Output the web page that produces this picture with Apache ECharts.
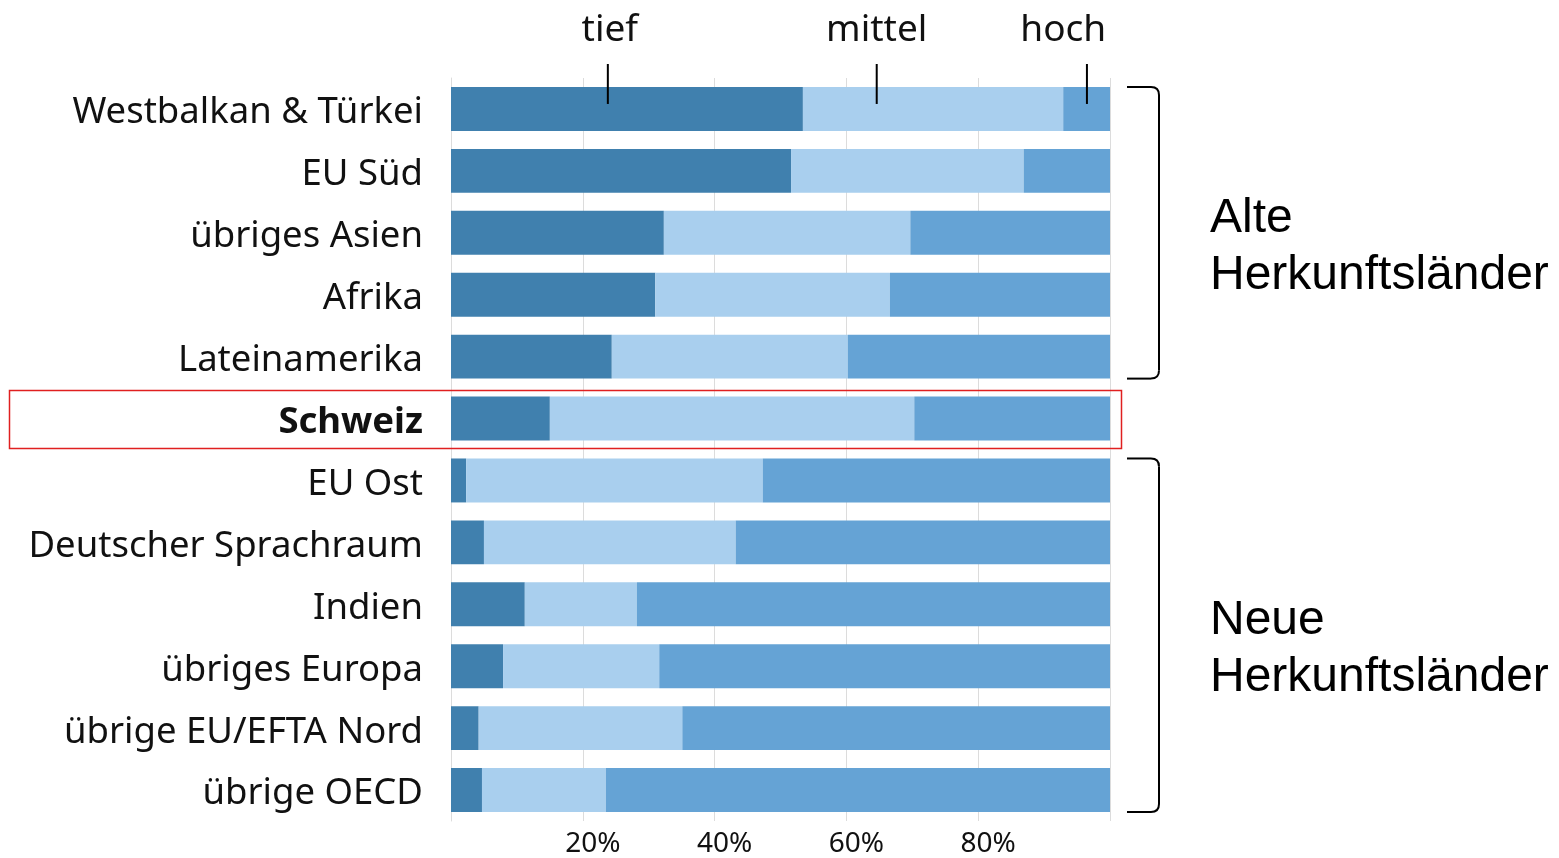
<!DOCTYPE html>
<html>
<head>
<meta charset="utf-8">
<script src="https://cdn.jsdelivr.net/npm/echarts@6/dist/echarts.min.js"></script>
<style>
  html, body { margin: 0; padding: 0; background: #fff; }
  #chart { width: 1559px; height: 858px; }
</style>
</head>
<body>
<div id="chart"></div>
<script>
// Kategorien (von oben nach unten)
var regions = ['Westbalkan & Türkei', 'EU Süd', 'übriges Asien', 'Afrika', 'Lateinamerika', 'Schweiz',
    'EU Ost', 'Deutscher Sprachraum', 'Indien', 'übriges Europa', 'übrige EU/EFTA Nord', 'übrige OECD'];
// Anteile in %
var tief   = [53.4, 51.6, 32.3, 31.0, 24.4, 15.0, 2.3, 5.0, 11.2, 7.9, 4.2, 4.7];
var mittel = [39.5, 35.3, 37.4, 35.6, 35.8, 55.3, 45.0, 38.2, 17.0, 23.7, 30.9, 18.8];
var hoch   = [7.1, 13.1, 30.3, 33.4, 39.8, 29.7, 52.7, 56.8, 71.8, 68.4, 64.9, 76.5];
// Beschriftung oben
var levelNames = ['tief', 'mittel', 'hoch'];
var levelTickAt = [23.8, 64.6, 96.5];
var levelTextAt = [24.1, 64.6, 92.9];
// Gruppen rechts
var groupNames = ['Alte\nHerkunftsländer', 'Neue\nHerkunftsländer'];
var groupFrom = [0, 6];
var groupTo = [4, 11];
var highlightIndex = 5;

var myChart = echarts.init(document.getElementById('chart'));
var labelFont = '"Noto Sans", sans-serif';

var option = {
    animation: false,
    grid: {
        left: 451,
        right: 449,
        top: 78,
        height: 744
    },
    xAxis: {
        type: 'value',
        min: 0,
        max: 100,
        interval: 20,
        axisLine: { show: false },
        axisTick: { show: false },
        splitLine: { show: true, lineStyle: { color: '#dcdcdc', width: 1 } },
        axisLabel: {
            margin: 9,
            padding: [0, 0, 0, 20],
            color: '#111',
            fontSize: 28,
            fontFamily: labelFont,
            formatter: function (v) {
                if (v === 0 || v === 100) return '';
                return v + '%';
            }
        }
    },
    yAxis: {
        type: 'category',
        inverse: true,
        data: regions,
        axisLine: { show: true, lineStyle: { color: '#dcdcdc' } },
        axisTick: { show: false },
        axisLabel: {
            margin: 28,
            padding: [8, 0, 0, 0],
            color: '#111',
            fontSize: 36.5,
            fontFamily: labelFont,
            formatter: function (v, i) {
                return i === highlightIndex ? '{b|' + v + '}' : v;
            },
            rich: {
                b: { fontWeight: 'bold', fontSize: 36.5, fontFamily: labelFont, color: '#111' }
            }
        }
    },
    series: [
        {
            name: 'tief', type: 'bar', stack: 'a', data: tief,
            barCategoryGap: '29%',
            itemStyle: { color: '#4080ae' }
        },
        {
            name: 'mittel', type: 'bar', stack: 'a', data: mittel,
            itemStyle: { color: '#a9cfee' }
        },
        {
            name: 'hoch', type: 'bar', stack: 'a', data: hoch,
            itemStyle: { color: '#65a3d5' }
        }
    ]
};

myChart.setOption(option);

// Zusatzgrafik: Kopfbeschriftung, Klammern, Rahmen um Schweiz
var g = [];
var band = myChart.convertToPixel({ yAxisIndex: 0 }, 1) - myChart.convertToPixel({ yAxisIndex: 0 }, 0);
var barHalf = band * 0.71 / 2;
var firstY = myChart.convertToPixel({ yAxisIndex: 0 }, 0);
var black = { stroke: '#000', lineWidth: 2 };

for (var i = 0; i < levelNames.length; i++) {
    var tx = myChart.convertToPixel({ xAxisIndex: 0 }, levelTickAt[i]);
    var lx = myChart.convertToPixel({ xAxisIndex: 0 }, levelTextAt[i]);
    g.push({
        type: 'line',
        shape: { x1: tx, y1: firstY - barHalf - 23, x2: tx, y2: firstY - 5 },
        style: black,
        z: 10
    });
    g.push({
        type: 'text',
        x: lx, y: 30,
        style: {
            text: levelNames[i], fill: '#111', font: '37px ' + labelFont,
            textAlign: 'center', textVerticalAlign: 'middle'
        }
    });
}

for (var k = 0; k < groupNames.length; k++) {
    var y0 = myChart.convertToPixel({ yAxisIndex: 0 }, groupFrom[k]) - barHalf;
    var y1 = myChart.convertToPixel({ yAxisIndex: 0 }, groupTo[k]) + barHalf;
    var bx0 = 1127, bx1 = 1159, r = 8;
    g.push({ type: 'line', shape: { x1: bx0, y1: y0, x2: bx1 - r, y2: y0 }, style: black });
    g.push({
        type: 'bezierCurve',
        shape: { x1: bx1 - r, y1: y0, cpx1: bx1, cpy1: y0, x2: bx1, y2: y0 + r },
        style: { stroke: '#000', lineWidth: 2, fill: 'none' }
    });
    g.push({ type: 'line', shape: { x1: bx1, y1: y0 + r, x2: bx1, y2: y1 - r }, style: black });
    g.push({
        type: 'bezierCurve',
        shape: { x1: bx1, y1: y1 - r, cpx1: bx1, cpy1: y1, x2: bx1 - r, y2: y1 },
        style: { stroke: '#000', lineWidth: 2, fill: 'none' }
    });
    g.push({ type: 'line', shape: { x1: bx1 - r, y1: y1, x2: bx0, y2: y1 }, style: black });
    g.push({
        type: 'text',
        x: 1210, y: (y0 + y1) / 2 + 14,
        style: {
            text: groupNames[k], fill: '#000', font: '48px "Liberation Sans", Arial, sans-serif',
            lineHeight: 57, textAlign: 'left', textVerticalAlign: 'middle'
        }
    });
}

var hy = myChart.convertToPixel({ yAxisIndex: 0 }, highlightIndex);
g.push({
    type: 'rect',
    shape: { x: 9.5, y: hy - band / 2 + 3, width: 1112, height: band - 4 },
    style: { stroke: '#e02020', lineWidth: 1.5, fill: 'none' },
    z: 10
});

myChart.setOption({ graphic: g });
</script>
</body>
</html>
